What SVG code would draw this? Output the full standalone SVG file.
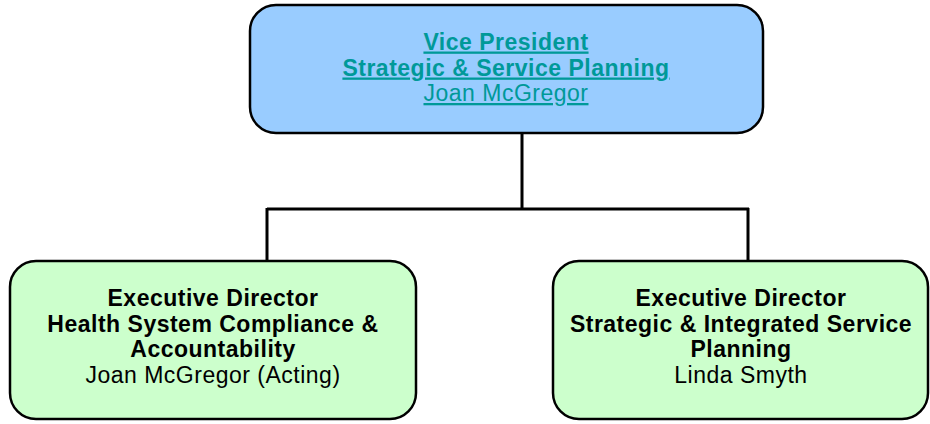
<svg xmlns="http://www.w3.org/2000/svg" width="930" height="424" viewBox="0 0 930 424">
<style>
.box{stroke:#000;stroke-width:2.5}
.top{fill:#99CCFF}
.grn{fill:#CCFFCC}
text{font-family:"Liberation Sans",Arial,sans-serif;font-size:23px;letter-spacing:0.5px;text-anchor:middle}
.b{font-weight:bold}
.link{fill:#009999;text-decoration:underline}
.conn{fill:none;stroke:#000;stroke-width:3}
</style>
<rect width="930" height="424" fill="#fff"/>
<g id="connectors">
<path class="conn" d="M522,133 V209 M267,209 H749 M267,208 V260 M748,208 V260"/>
</g>
<g id="vp">
<rect class="box top" x="250" y="5" width="513" height="128" rx="26"/>
<text class="b link" x="506" y="49.5">Vice President</text>
<text class="b link" x="506" y="75.5">Strategic &amp; Service Planning</text>
<text class="link" x="506" y="101">Joan McGregor</text>
</g>
<g id="ed1">
<rect class="box grn" x="10" y="261" width="406" height="158" rx="26"/>
<text class="b" x="213" y="306">Executive Director</text>
<text class="b" x="213" y="331.5">Health System Compliance &amp;</text>
<text class="b" x="213" y="357">Accountability</text>
<text x="213" y="382.5">Joan McGregor (Acting)</text>
</g>
<g id="ed2">
<rect class="box grn" x="553" y="261" width="375" height="158" rx="26"/>
<text class="b" x="741" y="306">Executive Director</text>
<text class="b" x="741" y="331.5">Strategic &amp; Integrated Service</text>
<text class="b" x="741" y="357">Planning</text>
<text x="741" y="382.5">Linda Smyth</text>
</g>
</svg>
